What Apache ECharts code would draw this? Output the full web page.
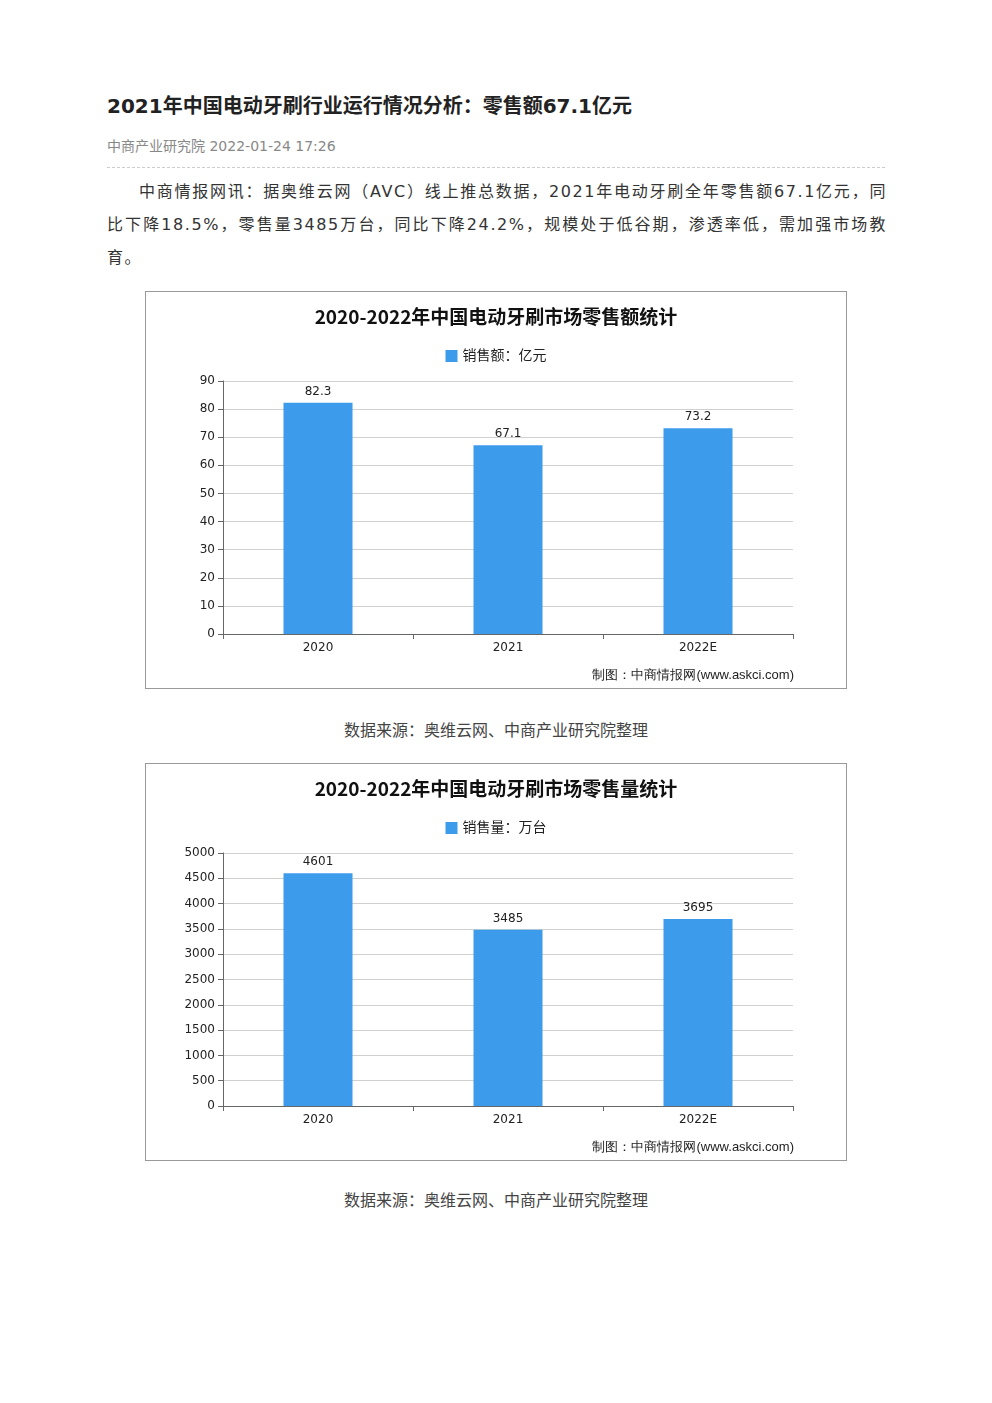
<!DOCTYPE html>
<html lang="zh">
<head>
<meta charset="UTF-8">
<title>2021年中国电动牙刷行业运行情况分析</title>
<script src="https://cdn.jsdelivr.net/npm/echarts@6/dist/echarts.min.js"></script>
<style>
  body { margin: 0; background: #fff; font-family: "DejaVu Sans", "Noto Sans CJK SC", sans-serif; color: #333; }
  .page { position: relative; width: 992px; height: 1403px; }
  .title { position: absolute; left: 107px; top: 90px; font-size: 20px; font-weight: bold; color: #222; }
  .meta { position: absolute; left: 107px; top: 135px; font-size: 14px; color: #888; }
  .rule { position: absolute; left: 107px; top: 167px; width: 778px; border-top: 1px dashed #ccc; }
  .para { position: absolute; left: 107px; top: 175px; width: 780px; font-size: 16px; line-height: 33px; text-indent: 2em; color: #333; text-align: justify; letter-spacing: 1.6px; }
  .box { position: absolute; left: 145px; width: 700px; border: 1px solid #999; }
  .chart { width: 700px; height: 396px; }
  .cap { position: absolute; left: 0; width: 992px; text-align: center; font-size: 16px; color: #444; }
</style>
</head>
<body>
<div class="page">
  <div class="title">2021年中国电动牙刷行业运行情况分析：零售额67.1亿元</div>
  <div class="meta">中商产业研究院 2022-01-24 17:26</div>
  <div class="rule"></div>
  <div class="para">中商情报网讯：据奥维云网（AVC）线上推总数据，2021年电动牙刷全年零售额67.1亿元，同比下降18.5%，零售量3485万台，同比下降24.2%，规模处于低谷期，渗透率低，需加强市场教育。</div>
  <div class="box" style="top:291px"><div id="c1" class="chart"></div></div>
  <div class="cap" style="top:717px">数据来源：奥维云网、中商产业研究院整理</div>
  <div class="box" style="top:763px"><div id="c2" class="chart"></div></div>
  <div class="cap" style="top:1187px">数据来源：奥维云网、中商产业研究院整理</div>
</div>
<script>
const years = ['2020', '2021', '2022E'];
const salesValue = [82.3, 67.1, 73.2];
const salesVolume = [4601, 3485, 3695];

function build(el, title, legend, data, max, interval) {
  const chart = echarts.init(document.getElementById(el));
  chart.setOption({
    animation: false,
    textStyle: { fontFamily: 'DejaVu Sans, Noto Sans CJK SC' },
    title: { text: title, left: 'center', top: 10, textStyle: { fontSize: 19, fontWeight: 'bold', color: '#111', fontFamily: 'Noto Sans CJK SC' } },
    legend: { top: 52, left: 'center', itemWidth: 12, itemHeight: 12, itemGap: 4, icon: 'rect', textStyle: { fontSize: 14, color: '#222' }, data: [legend] },
    graphic: [{ type: 'text', right: 52, bottom: 6, style: { text: '制图：中商情报网(www.askci.com)', fontSize: 13, fill: '#222' } }],
    grid: { left: 77, right: 53, top: 89, bottom: 54 },
    xAxis: {
      type: 'category', data: years,
      axisLine: { lineStyle: { color: '#666' } },
      axisTick: { show: true, alignWithLabel: false, lineStyle: { color: '#666' } },
      axisLabel: { color: '#222', fontSize: 12 }
    },
    yAxis: {
      type: 'value', min: 0, max: max, interval: interval,
      axisLine: { show: true, lineStyle: { color: '#666' } },
      axisTick: { show: true, lineStyle: { color: '#666' } },
      axisLabel: { color: '#222', fontSize: 12, formatter: v => String(v) },
      splitLine: { lineStyle: { color: '#d0d0d0' } }
    },
    series: [{
      name: legend, type: 'bar', data: data, barWidth: 69,
      itemStyle: { color: '#3d9bec' },
      label: { show: true, position: 'top', color: '#222', fontSize: 12 }
    }]
  });
}
build('c1', '2020-2022年中国电动牙刷市场零售额统计', '销售额：亿元', salesValue, 90, 10);
build('c2', '2020-2022年中国电动牙刷市场零售量统计', '销售量：万台', salesVolume, 5000, 500);
</script>
</body>
</html>
